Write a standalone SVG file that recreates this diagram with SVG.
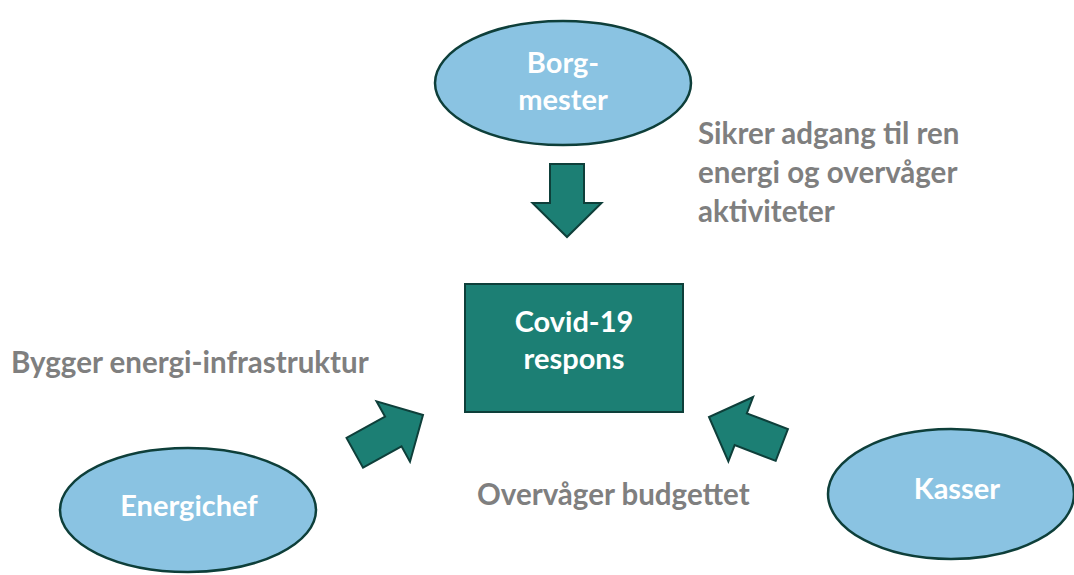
<svg xmlns="http://www.w3.org/2000/svg" width="1074" height="575" viewBox="0 0 1074 575">
<style>
.ell{fill:#8AC3E2;stroke:#0E3F3A;stroke-width:2.5}
.box{fill:#1C7F74;stroke:#0E3F3A;stroke-width:2}
.arr{fill:#1C7F74;stroke:#0E3F3A;stroke-width:2;stroke-linejoin:miter}
.nt{font-family:Lato,"Open Sans",sans-serif;font-weight:bold;font-size:29px;fill:#FFFFFF;text-anchor:middle}
.lbl{font-family:Lato,"Open Sans",sans-serif;font-weight:bold;font-size:29.5px;fill:#7F7F7F}
</style>
<defs>
<polygon id="arrowShape" points="-73,-17 -34,-17 -34,-34.5 0,0 -34,34.5 -34,17 -73,17"/>
<polygon id="arrowLong" points="-78,-17 -34,-17 -34,-34.5 0,0 -34,34.5 -34,17 -78,17"/>
</defs>
<rect width="1074" height="575" fill="#FFFFFF"/>
<g id="borgmester">
<ellipse class="ell" cx="563" cy="83" rx="128" ry="62"/>
<text class="nt" x="563" y="73">Borg-</text>
<text class="nt" x="563" y="110">mester</text>
</g>
<g id="covid">
<rect class="box" x="465" y="284" width="218" height="128"/>
<text class="nt" x="574" y="332">Covid-19</text>
<text class="nt" x="574" y="369">respons</text>
</g>
<g id="energichef">
<ellipse class="ell" cx="188" cy="510" rx="128" ry="62"/>
<text class="nt" x="189" y="516">Energichef</text>
</g>
<g id="kasser">
<ellipse class="ell" cx="951" cy="494" rx="123" ry="65"/>
<text class="nt" x="957" y="499">Kasser</text>
</g>
<g id="connectors">
<use href="#arrowShape" class="arr" transform="translate(567,237) rotate(90)"/>
<use href="#arrowLong" class="arr" transform="translate(423,415) rotate(-29)"/>
<use href="#arrowLong" class="arr" transform="translate(709,417) rotate(201)"/>
</g>
<g id="labels">
<text class="lbl" x="698" y="144">Sikrer adgang til ren</text>
<text class="lbl" x="698" y="183">energi og overvåger</text>
<text class="lbl" x="698" y="222">aktiviteter</text>
<text class="lbl" x="11" y="373">Bygger energi-infrastruktur</text>
<text class="lbl" x="477" y="505">Overvåger budgettet</text>
</g>
</svg>
